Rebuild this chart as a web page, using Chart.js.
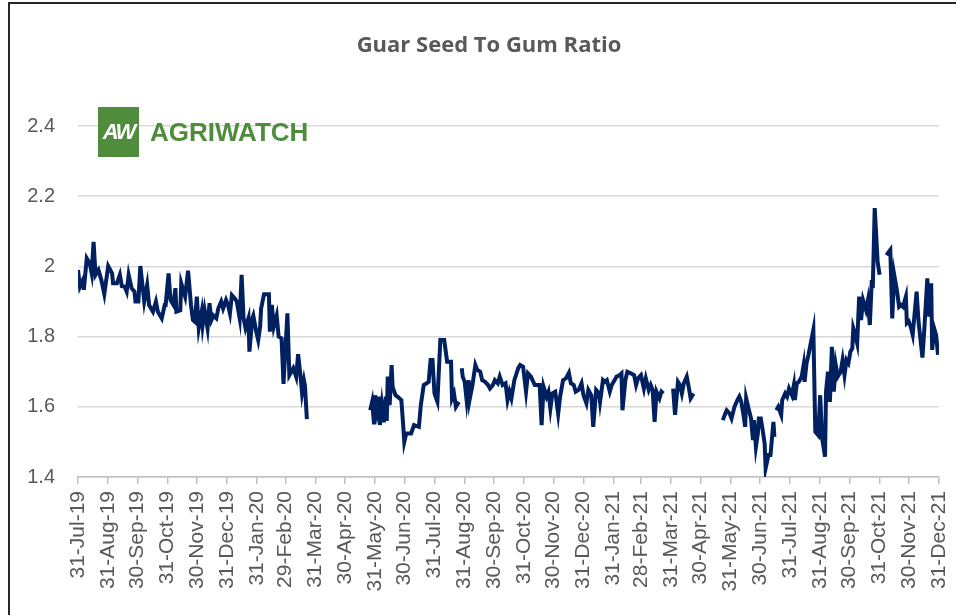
<!DOCTYPE html>
<html>
<head>
<meta charset="utf-8">
<script src="https://cdn.jsdelivr.net/npm/chart.js@4"></script>
<style>
  body { margin: 0; background: #fff; }
  #wrap { position: relative; width: 956px; height: 615px; overflow: hidden; }
  #frame { position: absolute; left: 8px; top: 2px; width: 960px; height: 620px;
           border-left: 2px solid #262626; border-top: 2px solid #262626; pointer-events: none; }
  #title { position: absolute; left: 0; top: 28px; width: 978px; text-align: center;
           color: #595959; font: bold 22px "Open Sans", sans-serif; line-height: 30px; }
  #logo { position: absolute; left: 98px; top: 107px; display: flex; align-items: center; }
  #logo .box { width: 41px; height: 50px; background: #4f8d3c; color: #fff;
               font: italic bold 22px "Liberation Sans", sans-serif; display: flex;
               align-items: center; justify-content: center; letter-spacing: -2px; }
  #logo .name { margin-left: 11px; color: #4f8d3c; font: bold 26px "Liberation Sans", sans-serif;
                letter-spacing: 0px; }
</style>
</head>
<body>
<div id="wrap">
  <canvas id="ratioChart" width="956" height="615"></canvas>
  <div id="title">Guar Seed To Gum Ratio</div>
  <div id="logo"><div class="box">AW</div><div class="name">AGRIWATCH</div></div>
  <div id="frame"></div>
</div>
<script>
// Month-end tick labels
const monthLabels = [
  '31-Jul-19', '31-Aug-19', '30-Sep-19', '31-Oct-19', '30-Nov-19', '31-Dec-19',
  '31-Jan-20', '29-Feb-20', '31-Mar-20', '30-Apr-20', '31-May-20', '30-Jun-20',
  '31-Jul-20', '31-Aug-20', '30-Sep-20', '31-Oct-20', '30-Nov-20', '31-Dec-20',
  '31-Jan-21', '28-Feb-21', '31-Mar-21', '30-Apr-21', '31-May-21', '30-Jun-21',
  '31-Jul-21', '31-Aug-21', '30-Sep-21', '31-Oct-21', '30-Nov-21', '31-Dec-21'
];

// Days since 31-Jul-19 (null in ratio = no data, breaks the line)
const days = [
  0, 2, 5, 6, 9, 12, 14, 16, 18, 21, 24, 27, 31, 35, 36, 40, 43, 45, 48, 50,
  52, 55, 58, 59, 62, 64, 68, 71, 73, 77, 80, 82, 86, 89, 90, 93, 95, 98, 100, 101,
  105, 106, 110, 113, 116, 118, 120, 122, 124, 127, 128, 130, 133, 135, 137, 139, 142, 144, 147, 149,
  152, 154, 156, 158, 161, 163, 166, 168, 170, 172, 175, 176, 179, 180, 183, 185, 187, 188, 191, 196,
  197, 199, 201, 204, 206, 209, 211, 215, 217, 221, 224, 226, 228, 230, 232, 233, 235, 265,
  300, 302, 304, 305, 307, 309, 310, 312, 314, 316, 317, 318, 320, 322, 323, 326, 328, 332, 334, 335,
  337, 342, 345, 350, 352, 355, 358, 360, 362, 364, 366, 369, 372, 376, 379, 383, 384, 386, 388, 391, 393,
  394, 395, 397, 399, 401, 402, 405, 408, 410, 413, 415, 418, 421, 423, 426, 428, 431, 433, 436, 439,
  441, 443, 445, 448, 452, 454, 457, 460, 462, 465, 469, 474, 476, 478, 481, 483, 485, 487, 490, 493,
  495, 498, 501, 504, 506, 509, 511, 514, 517, 519, 522, 524, 527, 529, 532, 535, 536, 539, 541, 543,
  546, 548, 551, 553, 556, 558, 559, 562, 564, 568, 571, 573, 575, 578, 581, 583, 586, 588, 590, 592,
  594, 597, 599, 601, 606,
  611, 613, 616, 618, 620, 622, 625, 627, 629, 632, 650,
  662, 664, 666, 669, 671, 674, 677, 679, 681, 683, 685, 686, 688, 691, 693, 694, 696, 698, 699, 701,
  703, 705, 706, 709, 711, 714, 715, 716,
  717, 719, 722, 723, 726, 728, 730, 733, 735, 736, 738, 740, 743, 745, 746, 748, 750, 755, 757, 760,
  762, 764, 767, 768, 770, 772, 774, 776, 778, 780, 783, 785, 787, 789, 791, 793, 795, 796, 798, 800,
  802, 804, 806, 809, 811, 813, 815, 816, 818, 821, 823, 826,
  830, 834, 836, 838, 841, 843, 845, 847, 850, 851, 853, 855, 857, 861, 863, 867, 869, 872, 874, 876,
  877, 879, 881, 883
];

const ratio = [
  1.99, 1.942, 1.961, 1.933, 2.023, 2.009, 1.981, 2.07, 1.976, 1.99, 1.961, 1.921, 2.001, 1.98, 1.952, 1.952, 1.976, 1.944, 1.942, 1.928,
  1.976, 1.938, 1.928, 1.90, 1.90, 2.001, 1.90, 1.947, 1.89, 1.871, 1.90, 1.871, 1.852, 1.89, 1.89, 1.98, 1.904, 1.89, 1.938, 1.871,
  1.875, 1.952, 1.914, 1.988, 1.89, 1.847, 1.842, 1.914, 1.824, 1.871, 1.833, 1.875, 1.824, 1.895, 1.847, 1.86, 1.852, 1.88, 1.90, 1.88,
  1.904, 1.89, 1.866, 1.918, 1.909, 1.90, 1.852, 1.976, 1.852, 1.824, 1.852, 1.757, 1.852, 1.86, 1.814, 1.79, 1.828, 1.88, 1.921, 1.921,
  1.814, 1.89, 1.828, 1.86, 1.80, 1.795, 1.665, 1.866, 1.69, 1.71, 1.685, 1.75, 1.70, 1.64, 1.675, 1.66, 1.565, null,
  1.59, 1.614, 1.55, 1.633, 1.59, 1.629, 1.548, 1.605, 1.556, 1.629, 1.56, 1.686, 1.605, 1.719, 1.657, 1.633, 1.629, 1.619, 1.543, 1.50,
  1.524, 1.524, 1.548, 1.543, 1.605, 1.662, 1.667, 1.671, 1.733, 1.733, 1.638, 1.614, 1.79, 1.79, 1.728, 1.728, 1.624, 1.638, 1.60, 1.614, null,
  1.71, 1.686, 1.671, 1.619, 1.676, 1.619, 1.662, 1.719, 1.705, 1.70, 1.676, 1.671, 1.662, 1.652, 1.662, 1.676, 1.667, 1.686, 1.662, 1.667,
  1.619, 1.643, 1.624, 1.676, 1.71, 1.719, 1.714, 1.643, 1.695, 1.686, 1.662, 1.662, 1.548, 1.657, 1.629, 1.643, 1.595, 1.638, 1.643, 1.58,
  1.629, 1.676, 1.681, 1.697, 1.667, 1.662, 1.643, 1.648, 1.667, 1.633, 1.61, 1.648, 1.633, 1.543, 1.648, 1.638, 1.614, 1.676, 1.671, 1.676,
  1.643, 1.662, 1.676, 1.686, 1.69, 1.695, 1.59, 1.676, 1.70, 1.695, 1.69, 1.662, 1.681, 1.69, 1.652, 1.681, 1.648, 1.662, 1.648, 1.557,
  1.643, 1.624, 1.643, 1.638, null,
  1.652, 1.577, 1.671, 1.662, 1.638, 1.667, 1.686, 1.657, 1.624, 1.638, null,
  1.562, 1.577, 1.59, 1.581, 1.567, 1.60, 1.619, 1.629, 1.614, 1.581, 1.543, 1.624, 1.60, 1.567, 1.505, 1.562, 1.486, 1.524, 1.567, 1.567,
  1.533, 1.495, 1.425, 1.463, 1.463, 1.557, 1.514, null,
  1.59, 1.60, 1.577, 1.619, 1.638, 1.629, 1.652, 1.633, 1.662, 1.619, 1.667, 1.671, 1.686, 1.719, 1.671, 1.724, 1.748, 1.819, 1.529, 1.519,
  1.633, 1.51, 1.458, 1.643, 1.70, 1.614, 1.771, 1.643, 1.719, 1.686, 1.70, 1.733, 1.69, 1.733, 1.724, 1.757, 1.767, 1.824, 1.805, 1.781,
  1.914, 1.847, 1.904, 1.876, 1.904, 1.833, 1.961, 1.938, 2.166, 2.013, 1.976, null,
  2.032, 2.047, 1.852, 1.976, 1.928, 1.885, 1.89, 1.885, 1.914, 1.838, 1.843, 1.828, 1.805, 1.928, 1.843, 1.74, 1.824, 1.966, 1.857, 1.952,
  1.762, 1.824, 1.805, 1.748
];

const yTicks = [1.4, 1.6, 1.8, 2, 2.2, 2.4];

// Convert 'dd-Mon-yy' into days since the first label
const MONTHS = { Jan: 0, Feb: 1, Mar: 2, Apr: 3, May: 4, Jun: 5, Jul: 6, Aug: 7, Sep: 8, Oct: 9, Nov: 10, Dec: 11 };
function labelToDay(label) {
  const [d, m, y] = label.split('-');
  return Date.UTC(2000 + parseInt(y), MONTHS[m], parseInt(d)) / 86400000;
}
const startDay = labelToDay(monthLabels[0]);
const tickDays = monthLabels.map(l => labelToDay(l) - startDay);

const points = days.map((d, i) => ({ x: d, y: ratio[i] }));

const grey = '#595959';

new Chart(document.getElementById('ratioChart').getContext('2d'), {
  type: 'line',
  data: {
    datasets: [{
      label: 'Guar Seed To Gum Ratio',
      data: points,
      borderColor: '#002060',
      borderWidth: 4,
      pointRadius: 0,
      tension: 0,
      spanGaps: false
    }]
  },
  options: {
    responsive: false,
    animation: false,
    layout: { padding: { left: 0, right: 17, top: 126, bottom: 0 } },
    plugins: {
      legend: { display: false },
      tooltip: { enabled: false },
      title: { display: false }
    },
    scales: {
      x: {
        type: 'linear',
        min: tickDays[0],
        max: tickDays[tickDays.length - 1],
        afterBuildTicks: scale => { scale.ticks = tickDays.map(v => ({ value: v })); },
        afterFit: scale => {
          scale.height = 138;
          scale.paddingLeft = 0;
          scale.paddingRight = 0;
        },
        grid: { drawOnChartArea: false, drawTicks: true, tickLength: 7, color: '#bfbfbf', lineWidth: 1.5 },
        border: { display: true, color: '#bfbfbf', width: 1.5 },
        ticks: {
          autoSkip: false,
          minRotation: 90,
          maxRotation: 90,
          padding: 7,
          color: grey,
          font: { family: '"Liberation Sans", sans-serif', size: 21 },
          callback: function(value) {
            const i = tickDays.indexOf(value);
            return i >= 0 ? monthLabels[i] : '';
          }
        }
      },
      y: {
        min: 1.4,
        max: 2.4,
        afterBuildTicks: scale => { scale.ticks = yTicks.map(v => ({ value: v })); },
        afterFit: scale => {
          scale.width = 78;
          scale.paddingTop = 0;
          scale.paddingBottom = 0;
        },
        grid: { color: '#d9d9d9', lineWidth: 1.5, drawTicks: false },
        border: { display: false },
        ticks: {
          padding: 23,
          color: grey,
          font: { family: '"Liberation Sans", sans-serif', size: 20 },
          callback: function(value) {
            return String(Number(value.toFixed(1)));
          }
        }
      }
    }
  }
});
</script>
</body>
</html>
